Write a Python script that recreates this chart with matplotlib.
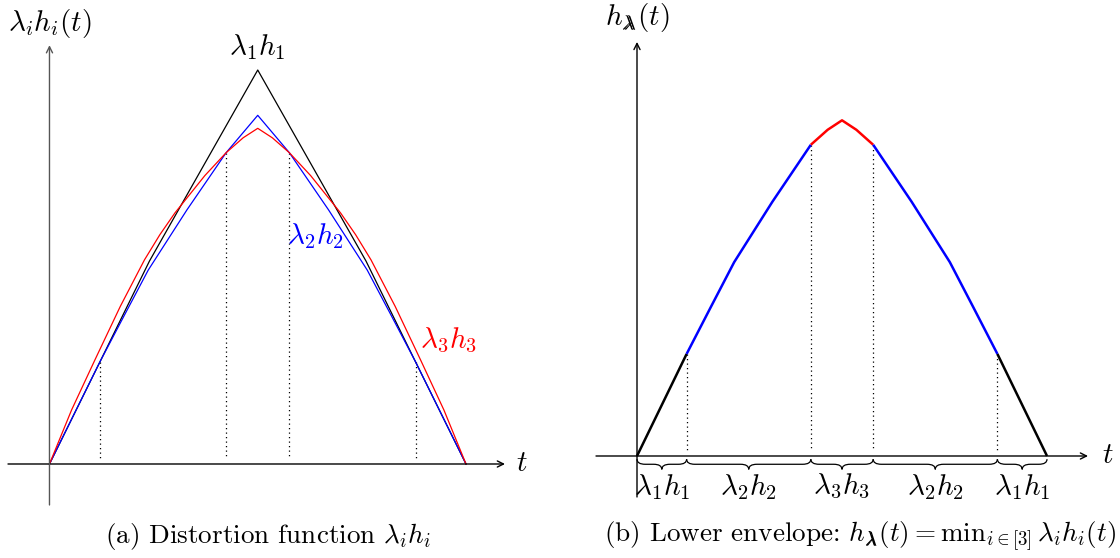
import numpy as np
import matplotlib
matplotlib.use('Agg')
import matplotlib.pyplot as plt
from matplotlib.path import Path
from matplotlib.patches import PathPatch

# curves (t and height both normalised, black peak = 1)
black_t = [0, 0.121, 0.24, 0.5, 0.76, 0.879, 1]
black_y = [0, 0.259, 0.515, 1.0, 0.515, 0.259, 0]

blue_t = [0, 0.121, 0.18, 0.237, 0.33, 0.424, 0.5,
          0.576, 0.67, 0.763, 0.82, 0.879, 1]
blue_y = [0, 0.259, 0.378, 0.492, 0.645, 0.790, 0.885,
          0.790, 0.645, 0.492, 0.378, 0.259, 0]

red_t = [0, 0.053, 0.109, 0.17, 0.228, 0.265, 0.301, 0.373, 0.424, 0.465, 0.5,
         0.535, 0.576, 0.627, 0.699, 0.735, 0.772, 0.83, 0.891, 0.947, 1]
red_y = [0, 0.137, 0.264, 0.400, 0.518, 0.582, 0.637, 0.732, 0.790, 0.828, 0.852,
         0.828, 0.790, 0.732, 0.637, 0.582, 0.518, 0.400, 0.264, 0.137, 0]

# where the lower envelope switches curve
cross_t = [0.121, 0.424, 0.576, 0.879]
cross_y = [0.259, 0.790, 0.790, 0.259]

# which curve is lowest between consecutive breakpoints
env_edges = [0] + cross_t + [1]
env_names = ['black', 'blue', 'red', 'blue', 'black']
env_labels = [r'$\lambda_1 h_1$', r'$\lambda_2 h_2$', r'$\lambda_3 h_3$',
              r'$\lambda_2 h_2$', r'$\lambda_1 h_1$']

plt.rcParams['mathtext.fontset'] = 'cm'
plt.rcParams['font.family'] = 'serif'
plt.rcParams['font.serif'] = ['cmr10', 'DejaVu Serif']

curves = {'black': (np.array(black_t), np.array(black_y)),
          'blue': (np.array(blue_t), np.array(blue_y)),
          'red': (np.array(red_t), np.array(red_y))}

fig = plt.figure(figsize=(11.2, 5.58), dpi=100)
ax1 = fig.add_axes([0, 0, 0.5, 1])
ax2 = fig.add_axes([0.5, 0, 0.5, 1])
for ax in (ax1, ax2):
    ax.axis('off')
ax1.set_xlim(-0.1188, 1.2257)
ax1.set_ylim(-0.2386, 1.1777)
ax2.set_xlim(-0.1878, 1.178)
ax2.set_ylim(-0.2589, 1.1574)

arrow = dict(arrowstyle='->', lw=1.0, color='k', shrinkA=0, shrinkB=0, mutation_scale=11)
dots = (0, (1, 2.6))
fs = 21
cap = 19.5
# poor man's bold lambda (overprinted), like \pmb
blam = r'\lambda\hspace{-0.568}\lambda'

# ---- (a) ----
ax1.annotate('', xy=(1.0936, 0), xytext=(-0.0996, 0), arrowprops=arrow)
ax1.annotate('', xy=(0, 1.063), xytext=(0, -0.104),
             arrowprops=dict(arrow, color='#555555'))

for tt, yy in zip(cross_t, cross_y):
    ax1.plot([tt, tt], [yy, 0.012], color='k', lw=0.9, linestyle=dots)

ax1.plot(black_t, black_y, color='black', lw=0.9)
ax1.plot(blue_t, blue_y, color='blue', lw=0.9)
ax1.plot(red_t, red_y, color='red', lw=0.9)

ax1.text(0, 1.119, r'$\lambda_i h_i(t)$', fontsize=fs, ha='center', va='center')
ax1.text(0.5, 1.058, r'$\lambda_1 h_1$', fontsize=fs, ha='center', va='center')
ax1.text(0.638, 0.579, r'$\lambda_2 h_2$', fontsize=fs, ha='center', va='center', color='blue')
ax1.text(0.959, 0.315, r'$\lambda_3 h_3$', fontsize=fs, ha='center', va='center', color='red')
ax1.text(1.134, 0.0, r'$t$', fontsize=fs, ha='center', va='center')
ax1.text(0.525, -0.184, r'(a) Distortion function $\lambda_i h_i$', fontsize=cap,
         ha='center', va='center')

# ---- (b) ----
ax2.annotate('', xy=(1.1, 0), xytext=(-0.1, 0), arrowprops=arrow)
ax2.annotate('', xy=(0, 1.051), xytext=(0, -0.104), arrowprops=arrow)

for tt, yy in zip(cross_t, cross_y):
    ax2.plot([tt, tt], [yy, 0.012], color='k', lw=0.9, linestyle=dots)

for lo, hi, name in zip(env_edges[:-1], env_edges[1:], env_names):
    ct, cy = curves[name]
    keep = (ct >= lo - 1e-9) & (ct <= hi + 1e-9)
    ax2.plot(ct[keep], cy[keep], color=name, lw=1.8, solid_capstyle='butt')


def brace(ax, x0, x1, y0=-0.008, amp=0.026, r=0.02):
    xm = (x0 + x1) / 2
    yh = y0 - amp / 2
    verts = [(x0, y0), (x0, yh), (x0 + r, yh),
             (xm - r, yh), (xm, yh), (xm, y0 - amp),
             (xm, yh), (xm + r, yh),
             (x1 - r, yh), (x1, yh), (x1, y0)]
    codes = [Path.MOVETO, Path.CURVE3, Path.CURVE3,
             Path.LINETO, Path.CURVE3, Path.CURVE3,
             Path.CURVE3, Path.CURVE3,
             Path.LINETO, Path.CURVE3, Path.CURVE3]
    ax.add_patch(PathPatch(Path(verts, codes), fill=False, lw=0.9, edgecolor='k'))


for lo, hi, lab in zip(env_edges[:-1], env_edges[1:], env_labels):
    brace(ax2, lo, hi)
    ax2.text((lo + hi) / 2, -0.078, lab, fontsize=fs, ha='center', va='center')

ax2.text(0, 1.114, r'$h_{' + blam + r'}(t)$', fontsize=fs, ha='center', va='center')
ax2.text(1.149, 0.0, r'$t$', fontsize=fs, ha='center', va='center')
ax2.text(0.544, -0.204,
         r'(b) Lower envelope: $h_{' + blam + r'}(t) = \mathrm{min}_{i\in[3]}\,\lambda_i h_i(t)$',
         fontsize=cap, ha='center', va='center')

plt.savefig('out.png', dpi=100)
